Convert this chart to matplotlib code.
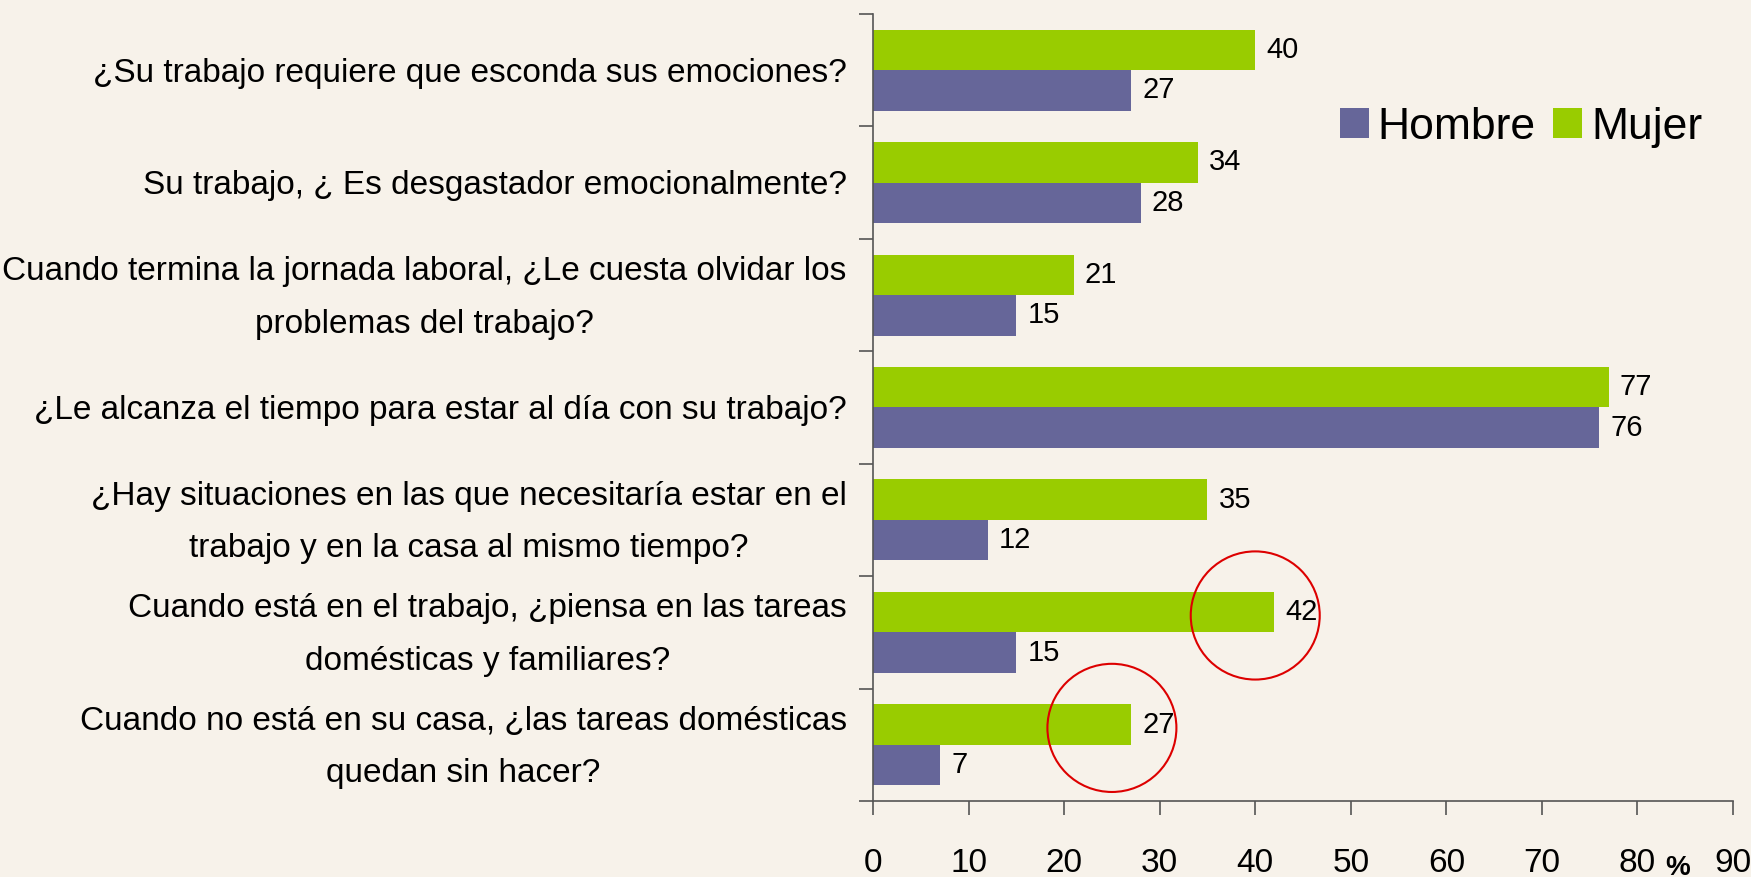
import matplotlib
matplotlib.use("Agg")
import matplotlib.pyplot as plt
from matplotlib.patches import Ellipse
import numpy as np

preguntas = [
    "¿Su trabajo requiere que esconda sus emociones?",
    "Su trabajo, ¿ Es desgastador emocionalmente?",
    "Cuando termina la jornada laboral, ¿Le cuesta olvidar los\nproblemas del trabajo?",
    "¿Le alcanza el tiempo para estar al día con su trabajo?",
    "¿Hay situaciones en las que necesitaría estar en el\ntrabajo y en la casa al mismo tiempo?",
    "Cuando está en el trabajo, ¿piensa en las tareas\ndomésticas y familiares?",
    "Cuando no está en su casa, ¿las tareas domésticas\nquedan sin hacer?",
]
hombre = [27, 28, 15, 76, 12, 15, 7]
mujer = [40, 34, 21, 77, 35, 42, 27]
series = ["Hombre", "Mujer"]
x_ticks = [0, 10, 20, 30, 40, 50, 60, 70, 80, 90]
# preguntas marcadas con circulo rojo (indice, centro x)
marcadas = [(5, 40), (6, 25)]

plt.rcParams["font.family"] = ["Liberation Sans", "DejaVu Sans"]

col_h = "#666699"
col_m = "#99CC00"

fig = plt.figure(figsize=(17.51, 8.77), dpi=100)
fig.patch.set_facecolor("#f7f2ea")
ax = fig.add_axes([0.4986, 0.0867, 0.4911, 0.8973])
ax.set_facecolor("none")

y = np.arange(len(preguntas))
h = 0.36
b1 = ax.barh(y + 0.18, hombre, height=h, color=col_h, label=series[0])
b2 = ax.barh(y - 0.18, mujer, height=h, color=col_m, label=series[1])

for bars in (b1, b2):
    for r in bars:
        ax.annotate(str(int(r.get_width())), (r.get_width(), r.get_y() + r.get_height() / 2),
                    xytext=(8, 0), textcoords="offset points", va="center", ha="left",
                    fontsize=21)

for i, cx in marcadas:
    ax.add_patch(Ellipse((cx, i - 0.15), 13.5, 1.14, fill=False, edgecolor="#dd0000",
                         lw=1.5, zorder=5))

ax.set_xlim(0, 90)
ax.set_ylim(len(preguntas) - 0.5, -0.5)
ax.set_xticks(x_ticks)

# etiquetas de preguntas (texto con interlineado propio)
ax.set_yticks([])
for i, q in zip(y, preguntas):
    ax.annotate(q, (0, i), xycoords=ax.get_yaxis_transform(), xytext=(-19, -2),
                textcoords="offset points", ha="right", va="center",
                multialignment="center", linespacing=1.9, fontsize=24,
                annotation_clip=False)

ax.set_yticks(np.arange(len(preguntas) + 1) - 0.5, minor=True)
ax.tick_params(axis="y", which="minor", length=10, width=1.2, color="#555555", direction="out")
ax.tick_params(axis="x", length=10, width=1.2, color="#555555", direction="out", pad=24,
               labelsize=24)
for s in ["top", "right"]:
    ax.spines[s].set_visible(False)
for s in ["left", "bottom"]:
    ax.spines[s].set_color("#555555")
    ax.spines[s].set_linewidth(1.2)

fig.text(0.958, -0.004, "%", fontsize=20, fontweight="bold", ha="center", va="bottom")

ax.legend(loc="upper right", bbox_to_anchor=(0.985, 0.905), frameon=False, fontsize=32,
          handlelength=0.65, handleheight=0.65, handletextpad=0.2, columnspacing=0.4,
          ncol=2, borderaxespad=0)

fig.savefig("out.png", dpi=100, facecolor=fig.get_facecolor())
